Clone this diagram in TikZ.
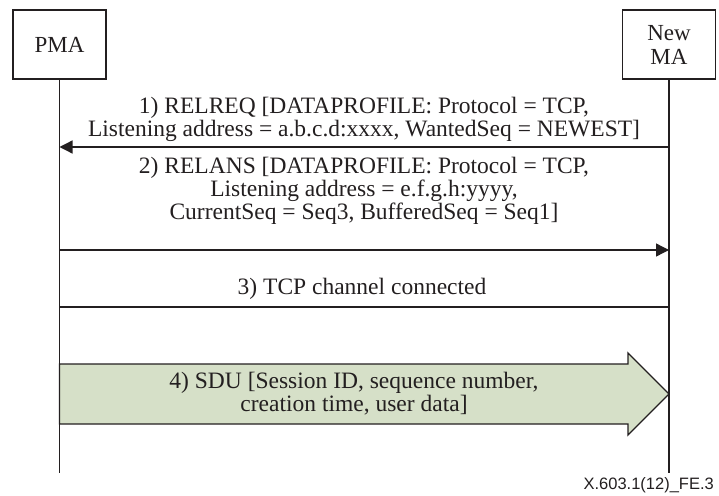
\documentclass[tikz,border=0pt]{standalone}
\usepackage{fontspec}
\setmainfont{Liberation Serif}
\newfontfamily\footfont{Liberation Sans}
\usetikzlibrary{arrows.meta}
\definecolor{ink}{RGB}{35,31,32}
\definecolor{sdugreen}{RGB}{214,224,200}
\begin{document}
\begin{tikzpicture}[x=1pt,y=-1pt,
  every node/.style={text=ink},
  entity/.style={draw=ink, line width=1.3pt, minimum width=93pt, minimum height=69pt, inner sep=0pt, align=center, font=\fontsize{23}{24}\selectfont},
  lifeline/.style={draw=ink, line width=1.3pt},
  msg/.style={draw=ink, line width=1.3pt, -{Triangle[length=13pt,width=13pt]}},
  plainmsg/.style={draw=ink, line width=1.3pt},
  lbl/.style={align=center, inner sep=0pt, font=\fontsize{23.5}{23}\selectfont},
  bigarrow/.style={draw=ink, line width=1.3pt, fill=sdugreen, line join=miter}]
\useasboundingbox (0,0) rectangle (719,495);

\node[entity] (pma) at (59.5,44.5) {PMA};
\node[entity] (nma) at (669,44.5) {New\\MA};

\coordinate (pmaend) at (59.5,473);
\coordinate (nmaend) at (669,473);

% big SDU arrow
\draw[bigarrow] (59.5,364) -- (628,364) -- (628,353) -- (669,394) -- (628,435) -- (628,424) -- (59.5,424) -- cycle;

\draw[lifeline] (pma.south) -- (pmaend);
\draw[lifeline] (nma.south) -- (nmaend);

\coordinate (p1) at (59.5,147);
\coordinate (n1) at (669,147);
\coordinate (p2) at (59.5,250);
\coordinate (n2) at (669,250);
\coordinate (p3) at (59.5,307);
\coordinate (n3) at (669,307);

\draw[msg] (n1) -- (p1);
\draw[msg] (p2) -- (n2);
\draw[plainmsg] (n3) -- (p3);

\node[lbl] (l1) at (364,119.5) {1) RELREQ [DATAPROFILE: Protocol = TCP,\\Listening address = a.b.c.d:xxxx, WantedSeq = NEWEST]};
\node[lbl] (l2) at (364,191) {2) RELANS [DATAPROFILE: Protocol = TCP,\\Listening address = e.f.g.h:yyyy,\\CurrentSeq = Seq3, BufferedSeq = Seq1]};
\node[lbl] (l3) at (362,289) {3) TCP channel connected};
\node[lbl] (l4) at (354,394) {4) SDU [Session ID, sequence number,\\creation time, user data]};

\node[anchor=east, inner sep=0pt, font=\footfont\fontsize{16.5}{19}\selectfont] (fig) at (714,485) {X.603.1(12)\_FE.3};
\end{tikzpicture}
\end{document}
